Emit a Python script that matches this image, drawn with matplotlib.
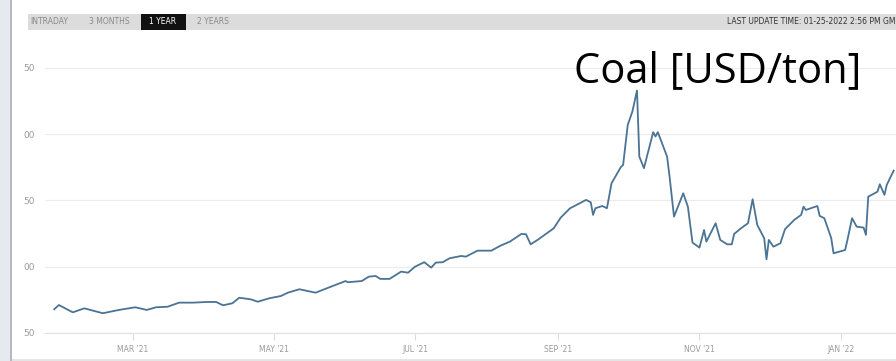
import matplotlib
matplotlib.use("Agg")
import matplotlib.pyplot as plt
import matplotlib.dates as mdates
from matplotlib.patches import Rectangle
from matplotlib.ticker import FuncFormatter
import pandas as pd

# coal price, 1 year view
dates = [
    "2021-01-26", "2021-01-28", "2021-02-03", "2021-02-08", "2021-02-16", "2021-02-23",
    "2021-03-02", "2021-03-07", "2021-03-11", "2021-03-16", "2021-03-21", "2021-03-27",
    "2021-04-02", "2021-04-06", "2021-04-09", "2021-04-13", "2021-04-16", "2021-04-21",
    "2021-04-24", "2021-04-29", "2021-05-04", "2021-05-07", "2021-05-12", "2021-05-19",
    "2021-05-25", "2021-06-01", "2021-06-02", "2021-06-08", "2021-06-11", "2021-06-14",
    "2021-06-16", "2021-06-20", "2021-06-25", "2021-06-28", "2021-07-01", "2021-07-05",
    "2021-07-08", "2021-07-10", "2021-07-13", "2021-07-16", "2021-07-21", "2021-07-23",
    "2021-07-28", "2021-08-03", "2021-08-07", "2021-08-11", "2021-08-16", "2021-08-18",
    "2021-08-20", "2021-08-23", "2021-08-27", "2021-08-30", "2021-09-02", "2021-09-06",
    "2021-09-13", "2021-09-15", "2021-09-16", "2021-09-17", "2021-09-20", "2021-09-22",
    "2021-09-24", "2021-09-28", "2021-09-29", "2021-10-01", "2021-10-03", "2021-10-05",
    "2021-10-06", "2021-10-08", "2021-10-12", "2021-10-13", "2021-10-14", "2021-10-18",
    "2021-10-19", "2021-10-21", "2021-10-25", "2021-10-27", "2021-10-29", "2021-11-01",
    "2021-11-03", "2021-11-04", "2021-11-08", "2021-11-10", "2021-11-13", "2021-11-15",
    "2021-11-16", "2021-11-19", "2021-11-22", "2021-11-24", "2021-11-26", "2021-11-29",
    "2021-11-30", "2021-12-01", "2021-12-03", "2021-12-06", "2021-12-08", "2021-12-12",
    "2021-12-15", "2021-12-16", "2021-12-17", "2021-12-22", "2021-12-23", "2021-12-25",
    "2021-12-28", "2021-12-29", "2022-01-03", "2022-01-04", "2022-01-06", "2022-01-08",
    "2022-01-11", "2022-01-12", "2022-01-13", "2022-01-15", "2022-01-17", "2022-01-18",
    "2022-01-20", "2022-01-21", "2022-01-24",
]
prices = [
    67.9, 71.1, 65.6, 68.6, 64.9, 67.4,
    69.4, 67.4, 69.4, 69.8, 72.9, 72.9,
    73.4, 73.4, 70.9, 72.4, 76.6, 75.4,
    73.6, 76.2, 77.9, 80.4, 83.0, 80.4,
    84.5, 89.2, 88.3, 89.2, 92.5, 93.0,
    90.8, 90.8, 96.3, 95.5, 100.0, 103.4,
    99.3, 103.1, 103.4, 106.4, 108.1, 107.6,
    112.1, 112.1, 115.9, 118.9, 124.7, 124.5,
    116.9, 120.2, 125.2, 129.0, 137.0, 144.0,
    150.4, 148.6, 139.1, 144.1, 145.8, 144.1,
    163.0, 175.1, 176.8, 207.0, 217.0, 232.9,
    183.1, 174.3, 201.5, 198.2, 201.5, 183.1,
    169.2, 137.8, 155.4, 145.3, 118.2, 114.4,
    127.7, 118.9, 132.8, 120.2, 116.9, 116.9,
    124.7, 129.0, 132.8, 150.9, 131.5, 121.5,
    105.6, 120.2, 115.1, 117.7, 128.3, 135.3,
    139.1, 145.3, 142.8, 145.8, 138.3, 136.6,
    121.5, 110.1, 112.6, 120.2, 136.6, 130.2,
    129.5, 124.0, 152.9, 154.7, 156.6, 162.2,
    154.2, 161.7, 172.5,
]

y_ticks = [50, 100, 150, 200, 250]
x_ticks = ["2021-03-01", "2021-05-01", "2021-07-01", "2021-09-01", "2021-11-01", "2022-01-01"]
tabs = ["INTRADAY", "3 MONTHS", "1 YEAR", "2 YEARS"]
tab_x = [49, 109, 163, 213]  # pixel centres of the tab labels
update_text = "LAST UPDATE TIME: 01-25-2022 2:56 PM GM"
title = "Coal [USD/ton]"

W, H = 896, 361
fig = plt.figure(figsize=(W / 100, H / 100), dpi=100)
fig.patch.set_facecolor("white")

# screenshot frame on the left and bottom
fig.patches.append(Rectangle((0, 0), 10 / W, 1, transform=fig.transFigure,
                             facecolor="#e6eaf0", edgecolor="none"))
fig.patches.append(Rectangle((10 / W, 0), 2 / W, 1, transform=fig.transFigure,
                             facecolor="#b4b8bd", edgecolor="none"))
fig.patches.append(Rectangle((12 / W, 0), (W - 12) / W, 2 / H, transform=fig.transFigure,
                             facecolor="#e4e4e4", edgecolor="none"))

# top tab bar
fig.patches.append(Rectangle((28 / W, 1 - 30 / H), (W - 28) / W, 16 / H,
                             transform=fig.transFigure, facecolor="#dcdcdc", edgecolor="none"))
fig.patches.append(Rectangle((141 / W, 1 - 30 / H), 45 / W, 16 / H,
                             transform=fig.transFigure, facecolor="#111111", edgecolor="none"))
narrow = ["Liberation Sans Narrow", "DejaVu Sans"]
for name, px in zip(tabs, tab_x):
    fig.text(px / W, 1 - 22 / H, name, ha="center", va="center", fontsize=5.5,
             family=narrow, color="white" if name == "1 YEAR" else "#8a8a8a")
fig.text(895 / W, 1 - 22 / H, update_text, ha="right", va="center", fontsize=5.5,
         family=narrow, color="#333333")

ax = fig.add_axes([45 / W, 28 / H, (W - 45) / W, 293 / H])
x = pd.to_datetime(dates)
ax.plot(x, prices, color="#4a7394", lw=1.3)

ax.set_xlim(pd.Timestamp("2021-01-22"), pd.Timestamp("2022-01-25"))
ax.set_ylim(50, 271)
ax.set_yticks(y_ticks)
# the left digit is cut off in the screenshot
ax.yaxis.set_major_formatter(FuncFormatter(lambda v, p: f"{int(v) % 100:02d}"))
ax.set_xticks(pd.to_datetime(x_ticks))
ax.xaxis.set_major_formatter(FuncFormatter(
    lambda v, p: mdates.num2date(v).strftime("%b '%y").upper()))

ax.grid(axis="y", color="#ececec", lw=0.8)
ax.set_axisbelow(True)
for s in ["top", "right", "left"]:
    ax.spines[s].set_visible(False)
ax.spines["bottom"].set_color("#e0e0e0")
ax.tick_params(axis="y", length=0, pad=7, labelsize=6.5, labelcolor="#9a9a9a")
ax.tick_params(axis="x", length=5, width=0.8, color="#dddddd", pad=4,
               labelsize=5.5, labelcolor="#9a9a9a")
for lab in ax.get_xticklabels() + ax.get_yticklabels():
    lab.set_family(narrow)

fig.text(718 / W, 1 - 71 / H, title, ha="center", va="center", fontsize=30,
         family=["Open Sans", "DejaVu Sans"], color="black")

fig.savefig("out.png", dpi=100)
